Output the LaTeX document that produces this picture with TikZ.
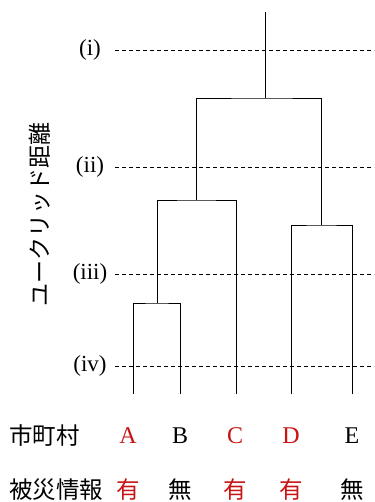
\documentclass[tikz,border=0pt]{standalone}
\usepackage{fontspec}
\setmainfont{Liberation Serif}
\newfontfamily\jpfont{Noto Sans CJK JP}
\definecolor{hitred}{RGB}{200,20,20}
\begin{document}
\begin{tikzpicture}[x=1pt,y=-1pt,line width=0.9pt,
    level/.style={dashed,dash pattern=on 4pt off 3pt},
    lab/.style={font=\fontsize{23}{23}\selectfont,inner sep=0pt},
    row/.style={font=\fontsize{24}{24}\selectfont,inner sep=0pt},
    jp/.style={font=\jpfont\fontsize{23.5}{23.5}\selectfont,inner sep=0pt}]
  \useasboundingbox (0,0) rectangle (374,502);
  % Levels (i)--(iv)
  \coordinate (rim) at (374,0);
  \foreach \y/\lab [count=\i] in {50/(i),167/(ii),274/(iii),366/(iv)} {
    \node[lab] (lv\i) at (90,\y) {\lab};
    \coordinate (d\i) at (115,\y);
    \draw[level] (d\i) -- (d\i -| rim);
  }
  % Leaves and merges
  \coordinate (lA) at (133,394);
  \coordinate (lB) at (180,394);
  \coordinate (lC) at (236,394);
  \coordinate (lD) at (291,394);
  \coordinate (lE) at (352,394);
  \coordinate (mAB) at (157,303);
  \coordinate (mABC) at (196,200);
  \coordinate (mDE) at (321,225);
  \coordinate (root) at (265,98);
  \coordinate (top) at (265,12);
  % Dendrogram
  \draw (lA) |- (mAB) -| (lB);
  \draw (mAB) |- (mABC) -| (lC);
  \draw (lD) |- (mDE) -| (lE);
  \draw (mABC) |- (root) -| (mDE);
  \draw (root) -- (top);
  % Axis title
  \node[jp,rotate=90,font=\jpfont\fontsize{23}{23}\selectfont] (dist) at (40,214) {ユークリッド距離};
  % Rows
  \node[jp,anchor=west] (mun) at (9,436) {市町村};
  \node[jp,anchor=west] (dmg) at (9,490) {被災情報};
  \foreach \n/\x/\c/\h in {A/128/hitred/有,B/180/black/無,C/235/hitred/有,D/291/hitred/有,E/352/black/無} {
    \node[row,text=\c] (n\n) at (\x,436) {\n};
    \node[jp,text=\c] (h\n) at (\x,490) {\h};
  }
\end{tikzpicture}
\end{document}
